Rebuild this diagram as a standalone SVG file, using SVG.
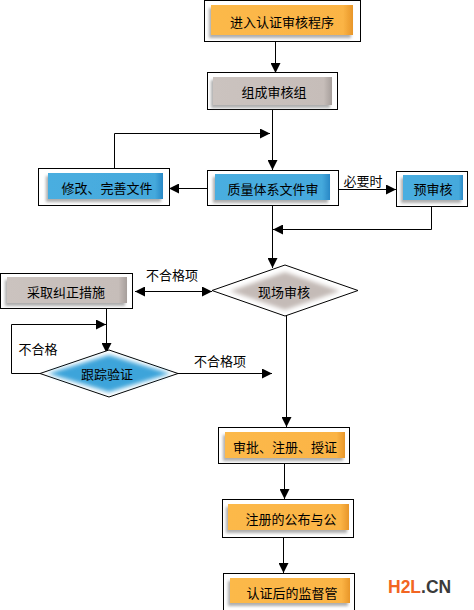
<svg xmlns="http://www.w3.org/2000/svg" width="474" height="610" viewBox="0 0 474 610">
<defs>
<filter id="sh" x="-20%" y="-30%" width="140%" height="170%">
<feGaussianBlur in="SourceAlpha" stdDeviation="1.6"/>
<feOffset dx="-2" dy="3" result="b"/>
<feFlood flood-color="#8a8a8a" flood-opacity="0.7"/>
<feComposite in2="b" operator="in"/>
<feMerge><feMergeNode/><feMergeNode in="SourceGraphic"/></feMerge>
</filter>
<filter id="soft" x="-10%" y="-20%" width="120%" height="140%">
<feGaussianBlur stdDeviation="2"/>
</filter>
<linearGradient id="og" x1="0" y1="0" x2="1" y2="0">
<stop offset="0" stop-color="#fcb94a"/>
<stop offset="0.93" stop-color="#fbb445"/>
<stop offset="1" stop-color="#e8962a"/>
</linearGradient>
<linearGradient id="bg" x1="0" y1="0" x2="1" y2="0">
<stop offset="0" stop-color="#4aaee0"/>
<stop offset="0.93" stop-color="#45a9dc"/>
<stop offset="1" stop-color="#2a88c6"/>
</linearGradient>
<linearGradient id="gg" x1="0" y1="0" x2="1" y2="0">
<stop offset="0" stop-color="#cbc3bf"/>
<stop offset="0.93" stop-color="#c6bdb9"/>
<stop offset="1" stop-color="#a69e9b"/>
</linearGradient>
<marker id="ah" markerWidth="10" markerHeight="10" refX="10" refY="5" orient="auto" markerUnits="userSpaceOnUse">
<path d="M0,0 L10,5 L0,10 Z" fill="#000"/>
</marker>
<marker id="as" markerWidth="10" markerHeight="10" refX="0" refY="5" orient="auto" markerUnits="userSpaceOnUse">
<path d="M10,0 L0,5 L10,10 Z" fill="#000"/>
</marker>
</defs>
<style>
.o{fill:#fff;stroke:#000;stroke-width:1}
.t{font-family:"Noto Sans CJK SC","Liberation Sans",sans-serif;font-size:13px;fill:#000;text-anchor:middle;dominant-baseline:central}
.l{font-family:"Noto Sans CJK SC","Liberation Sans",sans-serif;font-size:13px;fill:#000;text-anchor:middle;dominant-baseline:central}
.c{fill:none;stroke:#000;stroke-width:1}
</style>
<rect width="474" height="610" fill="#fff"/>

<g id="connectors">
<path class="c" d="M275.5,41 V73" marker-end="url(#ah)"/>
<path class="c" d="M272.5,109 V170" marker-end="url(#ah)"/>
<path class="c" d="M114.5,168 V133.5 H270" marker-end="url(#ah)"/>
<path class="c" d="M207,188.5 H169" marker-end="url(#ah)"/>
<path class="c" d="M338,189.5 H396" marker-end="url(#ah)"/>
<path class="c" d="M431.5,206 V229.5 H273" marker-end="url(#ah)"/>
<path class="c" d="M272.5,205 V268" marker-end="url(#ah)"/>
<path class="c" d="M135,291.5 H212" marker-start="url(#as)" marker-end="url(#ah)"/>
<path class="c" d="M106.5,308 V353" marker-end="url(#ah)"/>
<path class="c" d="M40,373.5 H11.5 V324.5 H106" marker-end="url(#ah)"/>
<path class="c" d="M178,373.5 H272" marker-end="url(#ah)"/>
<path class="c" d="M286.5,315 V427" marker-end="url(#ah)"/>
<path class="c" d="M284.5,463 V499" marker-end="url(#ah)"/>
<path class="c" d="M283.5,537 V573" marker-end="url(#ah)"/>
<text class="l" x="363" y="180">必要时</text>
<text class="l" x="172" y="274">不合格项</text>
<text class="l" x="38" y="348">不合格</text>
<text class="l" x="220" y="360">不合格项</text>
</g>

<g id="n1">
<rect class="o" x="204.5" y="0.5" width="156" height="41"/>
<rect x="211" y="5" width="142" height="30" fill="url(#og)" filter="url(#sh)"/>
<text class="t" x="282" y="21">进入认证审核程序</text>
</g>
<g id="n2">
<rect class="o" x="207.5" y="72.5" width="130" height="37"/>
<rect x="213" y="77" width="119" height="28" fill="url(#gg)" filter="url(#sh)"/>
<text class="t" x="274" y="91">组成审核组</text>
</g>
<g id="n3">
<rect class="o" x="38.5" y="168.5" width="131" height="37"/>
<rect x="48" y="173" width="115" height="26" fill="url(#bg)" filter="url(#sh)"/>
<text class="t" x="107" y="187">修改、完善文件</text>
</g>
<g id="n4">
<rect class="o" x="207.5" y="170.5" width="131" height="35"/>
<rect x="215" y="174" width="115" height="26" fill="url(#bg)" filter="url(#sh)"/>
<text class="t" x="273" y="188">质量体系文件审</text>
</g>
<g id="n5">
<rect class="o" x="396.5" y="171.5" width="71" height="35"/>
<rect x="403" y="175" width="60" height="25" fill="url(#bg)" filter="url(#sh)"/>
<text class="t" x="433" y="188">预审核</text>
</g>
<g id="n6">
<rect class="o" x="0.5" y="273.5" width="132" height="35"/>
<rect x="7" y="277" width="120" height="26" fill="url(#gg)" filter="url(#sh)"/>
<text class="t" x="66" y="291">采取纠正措施</text>
</g>
<g id="n7">
<polygon class="o" points="212,290.5 285,265 358,290.5 285,316"/>
<polygon points="230,291 285,272 340,291 285,310" fill="#c4bbb7" filter="url(#soft)"/>
<text class="t" x="284" y="291">现场审核</text>
</g>
<g id="n8">
<polygon class="o" points="40,373.5 109,350 178,373.5 109,397"/>
<polygon points="48,373.5 109,355 170,373.5 109,392" fill="#3ea4da" filter="url(#soft)"/>
<text class="t" x="107" y="373">跟踪验证</text>
</g>
<g id="n9">
<rect class="o" x="218.5" y="427.5" width="131" height="36"/>
<rect x="225" y="432" width="120" height="26" fill="url(#og)" filter="url(#sh)"/>
<text class="t" x="285" y="446">审批、注册、授证</text>
</g>
<g id="n10">
<rect class="o" x="222.5" y="499.5" width="131" height="38"/>
<rect x="228" y="504" width="121" height="26" fill="url(#og)" filter="url(#sh)"/>
<text class="t" x="291" y="518">注册的公布与公</text>
</g>
<g id="n11">
<rect class="o" x="223.5" y="573.5" width="131" height="40"/>
<rect x="230" y="578" width="120" height="25" fill="url(#og)" filter="url(#sh)"/>
<text class="t" x="292" y="592">认证后的监督管</text>
</g>

<text x="388" y="593" font-family="Liberation Sans, Arial, sans-serif" font-weight="bold" font-size="17.5"><tspan fill="#f26522">H2L</tspan><tspan fill="#3a3a3a">.CN</tspan></text>
</svg>
